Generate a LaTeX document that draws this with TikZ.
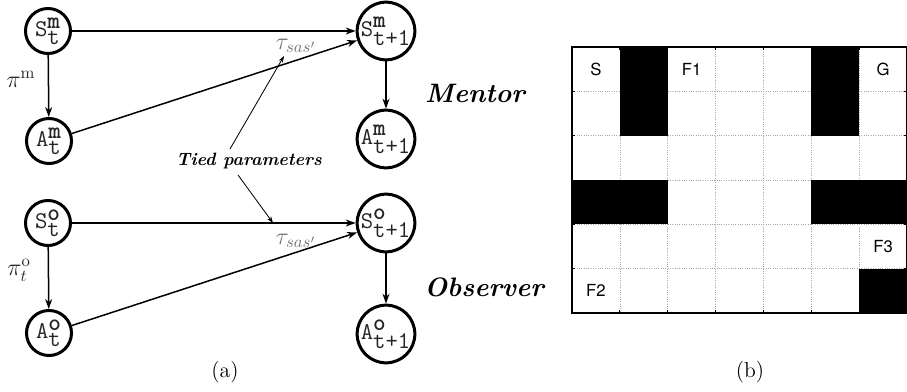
\documentclass[tikz,border=0pt]{standalone}
\usepackage{fontspec}
\newfontfamily\gridfont{TeX Gyre Heros}
\usetikzlibrary{arrows.meta}
\begin{document}
\begin{tikzpicture}[x=0.6pt,y=-0.6pt,
  var/.style={circle,draw,line width=1.8pt,minimum size=27pt,inner sep=0pt,font=\Large,text=black!85},
  arr/.style={line width=0.9pt,-{Stealth[length=6pt,width=4.2pt]}},
  tarr/.style={line width=0.5pt,-{Stealth[length=4pt,width=2.8pt]}},
  tau/.style={text=black!55,font=\Large},
  pil/.style={text=black!85,font=\Large},
  role/.style={font=\fontsize{16}{19}\selectfont\bfseries\itshape},
  cell/.style={font=\gridfont\fontsize{10}{12}\selectfont},
  capt/.style={font=\fontsize{13}{15}\selectfont},
  gline/.style={densely dotted,black!35,line width=0.4pt}]
\useasboundingbox (0,0) rectangle (907,392);
% ---- (a) ----
\node[var] (smt) at (48,31) {$\texttt{S}^{\texttt{\bfseries m}}_{\texttt{t}}$};
\node[var] (amt) at (49,141) {$\texttt{A}^{\texttt{\bfseries m}}_{\texttt{t}}$};
\node[var] (smt1) at (386,31) {$\texttt{S}^{\texttt{\bfseries m}}_{\texttt{t+1}}$};
\node[var] (amt1) at (386,139) {$\texttt{A}^{\texttt{\bfseries m}}_{\texttt{t+1}}$};
\node[var] (sot) at (48,223) {$\texttt{S}^{\texttt{\bfseries o}}_{\texttt{t}}$};
\node[var] (aot) at (49,333) {$\texttt{A}^{\texttt{\bfseries o}}_{\texttt{t}}$};
\node[var] (sot1) at (386,223) {$\texttt{S}^{\texttt{\bfseries o}}_{\texttt{t+1}}$};
\node[var] (aot1) at (386,334) {$\texttt{A}^{\texttt{\bfseries o}}_{\texttt{t+1}}$};
\draw[arr] (smt) -- (smt1);
\draw[arr] (amt) -- (smt1);
\draw[arr] (smt) -- (amt);
\draw[arr] (smt1) -- (amt1);
\draw[arr] (sot) -- (sot1);
\draw[arr] (aot) -- (sot1);
\draw[arr] (sot) -- (aot);
\draw[arr] (sot1) -- (aot1);
\node[pil] (pim) at (21,79) {$\pi^{\mathrm{m}}$};
\node[pil] (pio) at (19,270) {$\pi^{\mathrm{o}}_{t}$};
\node[tau] (tauu) at (296,46) {$\tau_{sas'}$};
\node[tau] (taul) at (296,241) {$\tau_{sas'}$};
\node[font=\fontsize{10.7}{13}\selectfont\bfseries\itshape] (tied) at (249,161) {Tied parameters};
\coordinate (tu0) at (230,149);
\coordinate (tu) at (284,56);
\coordinate (tl0) at (238,175);
\coordinate (tl) at (273,223);
\draw[tarr] (tu0) -- (tu);
\draw[tarr] (tl0) -- (tl);
\node[role] (mentor) at (475,93) {Mentor};
\node[role] (observer) at (484,287) {Observer};
\node[capt] (capa) at (225,372) {(a)};
% ---- (b) ----
\def\gx{572}\def\gy{47}\def\cw{47.857}\def\ch{44.33}
\foreach \i in {1,...,6}
  \draw[gline] (\gx+\i*\cw,\gy) -- ++(0,6*\ch);
\foreach \j in {1,...,5}
  \draw[gline] (\gx,\gy+\j*\ch) -- ++(7*\cw,0);
\foreach \c/\r in {1/0,5/0,1/1,5/1,0/3,1/3,5/3,6/3,6/5}
  \fill (\gx+\c*\cw,\gy+\r*\ch) rectangle ++(\cw,\ch);
\foreach \i in {1,...,6} {
  \draw[line width=0.5pt] (\gx+\i*\cw,\gy) -- ++(0,3);
  \draw[line width=0.5pt] (\gx+\i*\cw,\gy+6*\ch) -- ++(0,-3);
}
\foreach \j in {1,...,5} {
  \draw[line width=0.5pt] (\gx,\gy+\j*\ch) -- ++(3,0);
  \draw[line width=0.5pt] (\gx+7*\cw,\gy+\j*\ch) -- ++(-3,0);
}
\draw[line width=0.9pt] (\gx,\gy) rectangle (\gx+7*\cw,\gy+6*\ch);
\node[cell] (cs) at (\gx+0.5*\cw,\gy+0.5*\ch) {S};
\node[cell] (cf1) at (\gx+2.5*\cw,\gy+0.5*\ch) {F1};
\node[cell] (cg) at (\gx+6.5*\cw,\gy+0.5*\ch) {G};
\node[cell] (cf3) at (\gx+6.5*\cw,\gy+4.5*\ch) {F3};
\node[cell] (cf2) at (\gx+0.5*\cw,\gy+5.5*\ch) {F2};
\node[capt] (capb) at (750,372) {(b)};
\end{tikzpicture}
\end{document}
